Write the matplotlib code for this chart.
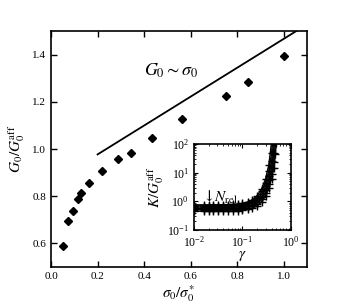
import matplotlib
matplotlib.use("Agg")
import matplotlib.pyplot as plt
import numpy as np

plt.rcParams['font.family'] = 'serif'
plt.rcParams['font.serif'] = ['Liberation Serif', 'DejaVu Serif']
plt.rcParams['mathtext.fontset'] = 'stix'

# Main panel data
sigma_ratio = [0.053, 0.075, 0.095, 0.115, 0.127, 0.163, 0.220, 0.289, 0.342,
               0.433, 0.564, 0.750, 0.847, 1.003]
G_ratio = [0.587, 0.696, 0.739, 0.789, 0.815, 0.858, 0.907, 0.958, 0.985,
           1.045, 1.127, 1.225, 1.286, 1.394]
guide_x = [0.2, 1.1]
guide_y = [0.977, 1.528]

# Inset data: K/G0aff vs gamma for several N_rel
gamma = [0.01, 0.016, 0.02, 0.025, 0.032, 0.04, 0.05, 0.063, 0.08, 0.1,
         0.13, 0.16, 0.2, 0.25, 0.3, 0.35, 0.4, 0.44, 0.48, 0.5]
K1 = [0.450, 0.451, 0.451, 0.452, 0.453, 0.454, 0.457, 0.462, 0.471, 0.486,
      0.520, 0.574, 0.691, 0.968, 1.54, 2.81, 6.14, 13.96, 45.1, 109]
K2 = [0.510, 0.511, 0.511, 0.512, 0.513, 0.515, 0.519, 0.525, 0.536, 0.555,
      0.598, 0.666, 0.819, 1.188, 1.98, 3.86, 9.3, 24.4, 114, 494]
K3 = [0.570, 0.571, 0.572, 0.572, 0.574, 0.577, 0.581, 0.588, 0.602, 0.625,
      0.679, 0.766, 0.963, 1.454, 2.558, 5.38, 14.7, 48.1, 509, 1000]
K4 = [0.630, 0.631, 0.632, 0.633, 0.635, 0.638, 0.643, 0.652, 0.669, 0.698,
      0.765, 0.874, 1.128, 1.784, 3.34, 7.71, 25.0, 118.8, 1000, 1000]
K5 = [0.691, 0.691, 0.692, 0.694, 0.696, 0.700, 0.706, 0.717, 0.737, 0.773,
      0.856, 0.994, 1.323, 2.206, 4.45, 11.5, 48.2, 518, 1000, 1000]
K6 = [0.751, 0.752, 0.753, 0.754, 0.757, 0.762, 0.769, 0.782, 0.807, 0.851,
      0.954, 1.130, 1.557, 2.763, 6.09, 18.33, 117, 1000, 1000, 1000]
K_curves = [K1, K2, K3, K4, K5, K6]

fig = plt.figure(figsize=(3.41, 3.07), dpi=100)
ax = fig.add_axes([0.1496, 0.1303, 0.7507, 0.7687])
ax.plot(sigma_ratio, G_ratio, linestyle='none', marker='D', markersize=4.5,
        color='black')
ax.plot(guide_x, guide_y, color='black', linewidth=1.3)
ax.set_xlim(0, 1.1)
ax.set_ylim(0.5, 1.5)
ax.set_xticks([0.0, 0.2, 0.4, 0.6, 0.8, 1.0])
ax.set_yticks([0.6, 0.8, 1.0, 1.2, 1.4])
ax.tick_params(direction='in', top=True, right=True, labelsize=8,
               length=4, width=1)
for s in ax.spines.values():
    s.set_linewidth(1.2)
ax.set_xlabel(r'$\sigma_0/\sigma_0^{*}$', fontsize=11, labelpad=2)
ax.set_ylabel(r'$G_0/G_0^{\rm aff}$', fontsize=11, labelpad=4)
ax.text(0.4, 1.33, r'$G_0 \sim \sigma_0$', fontsize=13, ha='left', va='center')

ins = fig.add_axes([0.569, 0.251, 0.284, 0.280])
for K in K_curves:
    ins.plot(gamma, K, color='black', linewidth=1.0, marker='+',
             markersize=6, markeredgewidth=1.0)
ins.set_xscale('log')
ins.set_yscale('log')
ins.set_xlim(1e-2, 1e0)
ins.set_ylim(1e-1, 1e2)
ins.tick_params(which='both', direction='in', top=True, right=True,
                labelsize=8.5)
ins.tick_params(which='major', length=3)
ins.tick_params(which='minor', length=1.5)
for s in ins.spines.values():
    s.set_linewidth(1.2)
ins.set_xlabel(r'$\gamma$', fontsize=11, labelpad=0)
ins.set_ylabel(r'$K/G_0^{\rm aff}$', fontsize=11, labelpad=1)
ins.text(0.0145, 1.4, '↓$N_{\\rm rel}$', fontsize=11, ha='left', va='center',
         family=['DejaVu Serif'])

fig.savefig('out.png', dpi=100)
